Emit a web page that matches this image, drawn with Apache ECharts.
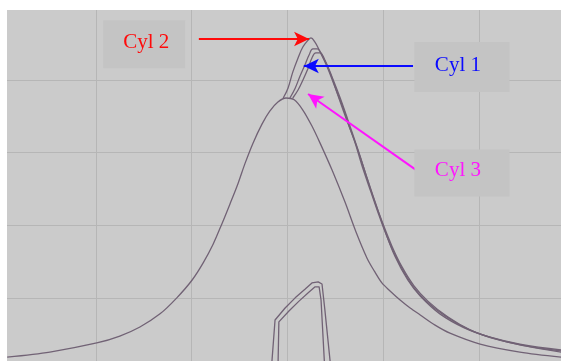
<!DOCTYPE html>
<html>
<head>
<meta charset="utf-8">
<script src="https://cdn.jsdelivr.net/npm/echarts@6/dist/echarts.min.js"></script>
<style>
  html, body { margin: 0; padding: 0; background: #fff; }
  #chart { width: 561px; height: 361px; }
</style>
</head>
<body>
<div id="chart"></div>
<script>
// crank angle (deg) vs cylinder pressure (bar)
var motored = [
  [-58.5, 3.8], [-49.6, 5.2], [-39.8, 7.7], [-35.0, 9.6], [-30.8, 12.1],
  [-26.6, 15.7], [-23.1, 20.1], [-19.9, 25.0], [-17.6, 29.7], [-15.5, 34.9],
  [-13.7, 40.4], [-12.0, 45.9], [-10.3, 51.6], [-8.9, 56.9], [-7.2, 62.6],
  [-5.3, 67.9], [-3.7, 71.4], [-2.0, 73.9], [-0.3, 75.0], [1.4, 74.5],
  [3.2, 71.7], [5.1, 67.3], [6.8, 62.6], [9.3, 55.2], [12.0, 46.4],
  [14.3, 38.2], [16.6, 31.0], [18.1, 27.5], [19.7, 24.2], [21.4, 22.0],
  [23.5, 19.5], [25.6, 17.3], [27.7, 15.4], [30.8, 12.6], [33.9, 10.4],
  [40.2, 7.4], [48.5, 5.2], [57.1, 3.8]
];
var cyl2 = [
  [-0.9, 75.0], [0.1, 77.7], [1.1, 82.1], [2.2, 86.0], [3.2, 89.0],
  [4.3, 90.9], [4.9, 91.5], [5.7, 90.4], [6.6, 88.2], [8.2, 83.8],
  [9.9, 78.0], [11.6, 72.3], [13.0, 66.8], [14.7, 60.7], [16.6, 53.0],
  [18.5, 45.6], [20.3, 38.7], [22.4, 31.6], [25.1, 25.0], [27.7, 20.6],
  [31.8, 15.7], [37.0, 11.8], [42.3, 9.3], [48.5, 7.4], [57.1, 5.8]
];
var cyl1 = [
  [0.5, 75.0], [1.6, 77.7], [2.6, 81.0], [3.7, 84.3], [4.5, 86.8],
  [5.3, 88.5], [6.2, 88.5], [7.2, 86.8], [8.9, 81.9], [10.5, 75.8],
  [12.2, 69.5], [13.9, 63.5], [15.5, 56.6], [17.4, 49.2], [19.3, 42.0],
  [21.4, 34.9], [23.5, 29.1], [26.0, 23.6], [28.7, 19.5], [32.9, 15.1],
  [37.7, 11.5], [42.7, 9.1], [48.9, 7.1], [57.1, 5.5]
];
var cyl3 = [
  [1.1, 75.0], [2.2, 77.2], [3.2, 79.9], [4.3, 83.2], [5.1, 86.0],
  [5.9, 87.4], [6.8, 87.4], [7.8, 85.4], [9.3, 80.8], [11.0, 75.0],
  [12.6, 69.0], [14.3, 62.4], [16.0, 55.5], [17.8, 48.1], [19.7, 41.2],
  [21.8, 34.3], [23.9, 28.6], [26.4, 23.4], [29.3, 19.2], [33.5, 14.8],
  [38.1, 11.3], [43.3, 8.8], [49.6, 6.9], [57.1, 5.2]
];
// the two lift traces at the bottom
var liftOuter = [
  [-3.4, 0], [-2.6, 14.0], [-0.5, 17.3], [1.6, 20.1], [3.7, 22.5],
  [5.1, 24.2], [6.4, 24.5], [7.2, 23.9], [7.8, 16.8], [9.1, 0]
];
var liftInner = [
  [-2.0, 0], [-1.8, 13.5], [0.3, 16.5], [2.4, 19.2], [4.5, 21.7],
  [5.7, 23.1], [6.6, 23.1], [7.0, 19.5], [7.8, 0]
];

// annotations: label name, box centre, arrow start, arrow end, colour
var labelNames = ['Cyl 2', 'Cyl 1', 'Cyl 3'];
var labelPos = [[-29.9, 89.8], [36.4, 83.5], [36.4, 54.4]];
var arrowFrom = [[-18.5, 91.2], [26.2, 83.8], [27.4, 54.7]];
var arrowTo = [[4.5, 91.2], [3.4, 83.8], [4.3, 76.1]];
var labelColors = ['#ff0a0a', '#0a0aff', '#ff14ff'];
var boxSizes = [[82, 48], [95, 50], [95, 47]];

var traceColor = '#716275';

function trace(name, data, smooth) {
  return {
    name: name,
    type: 'line',
    data: data,
    showSymbol: false,
    smooth: smooth,
    lineStyle: { color: traceColor, width: 1.3 },
    z: 3
  };
}

var chart = echarts.init(document.getElementById('chart'));
var option = {
  animation: false,
  backgroundColor: '#cbcbcb',
  grid: { left: 0, right: -14, top: 7, bottom: -10, outerBoundsMode: 'none' },
  xAxis: {
    type: 'value', min: -60, max: 60, interval: 20,
    axisLine: { show: false }, axisTick: { show: false }, axisLabel: { show: false },
    splitLine: { lineStyle: { color: '#b6b6b6', width: 1 } }
  },
  yAxis: {
    type: 'value', min: 0, max: 100, interval: 20,
    axisLine: { show: false }, axisTick: { show: false }, axisLabel: { show: false },
    splitLine: { lineStyle: { color: '#b6b6b6', width: 1 } }
  },
  graphic: [
    { type: 'rect', shape: { x: 0, y: 0, width: 561, height: 10 }, style: { fill: '#ffffff' }, z: 100 },
    { type: 'rect', shape: { x: 0, y: 0, width: 7, height: 361 }, style: { fill: '#ffffff' }, z: 100 }
  ],
  series: [
    trace('motored', motored, 0.3),
    trace('Cyl 2', cyl2, 0.4),
    trace('Cyl 1', cyl1, 0.4),
    trace('Cyl 3', cyl3, 0.4),
    trace('lift outer', liftOuter, false),
    trace('lift inner', liftInner, false),
    {
      name: 'notes',
      type: 'line',
      data: [],
      markPoint: {
        silent: true,
        data: labelNames.map(function (n, i) {
          return {
            coord: labelPos[i],
            symbol: 'rect',
            symbolSize: boxSizes[i],
            itemStyle: { color: '#c4c4c4' },
            label: {
              show: true,
              position: 'inside',
              formatter: n,
              color: labelColors[i],
              fontFamily: 'Liberation Serif',
              fontSize: 21,
              offset: [i === 0 ? 2 : -4, -2]
            }
          };
        })
      },
      markLine: {
        silent: true,
        symbol: ['none', 'arrow'],
        symbolSize: [11, 15],
        label: { show: false },
        data: labelNames.map(function (n, i) {
          return [
            { coord: arrowFrom[i], lineStyle: { color: labelColors[i], width: 2, type: 'solid' } },
            { coord: arrowTo[i] }
          ];
        })
      },
      z: 5
    }
  ]
};
chart.setOption(option);
</script>
</body>
</html>
